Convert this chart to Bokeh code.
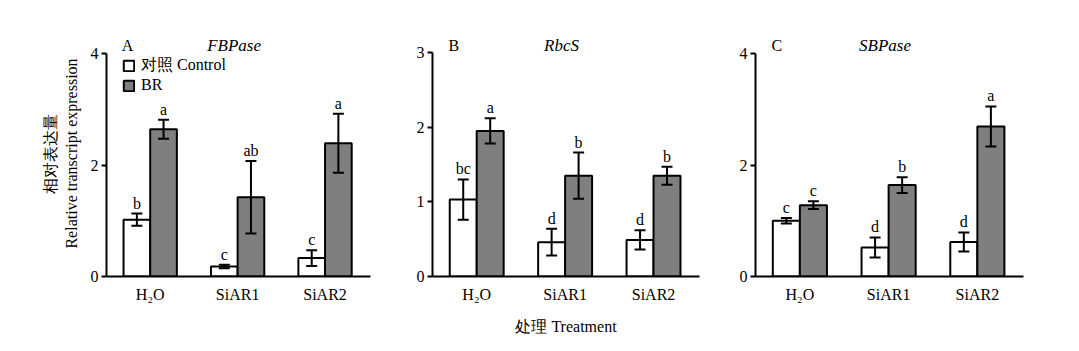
from bokeh.plotting import figure
from bokeh.models import ColumnDataSource, Whisker, TeeHead, Range1d, Legend, LegendItem
from bokeh.layouts import row
from bokeh.embed import file_html
from bokeh.resources import INLINE
from bokeh.core.properties import value

# ---------------- data ----------------
groups = ["H₂O", "SiAR1", "SiAR2"]
treatments = ["对照 Control", "BR"]
panel_letters = ["A", "B", "C"]
genes = ["FBPase", "RbcS", "SBPase"]
y_max = [4, 3, 4]
y_ticks = [[0, 2, 4], [0, 1, 2, 3], [0, 2, 4]]

fbp_ctrl = [1.02, 0.18, 0.33]
fbp_ctrl_err = [0.11, 0.03, 0.14]
fbp_br = [2.64, 1.42, 2.39]
fbp_br_err = [0.17, 0.65, 0.53]
fbp_ctrl_sig = ["b", "c", "c"]
fbp_br_sig = ["a", "ab", "a"]

rbc_ctrl = [1.03, 0.46, 0.49]
rbc_ctrl_err = [0.27, 0.18, 0.13]
rbc_br = [1.95, 1.35, 1.35]
rbc_br_err = [0.17, 0.31, 0.12]
rbc_ctrl_sig = ["bc", "d", "d"]
rbc_br_sig = ["a", "b", "b"]

sbp_ctrl = [1.00, 0.52, 0.62]
sbp_ctrl_err = [0.05, 0.18, 0.17]
sbp_br = [1.28, 1.64, 2.69]
sbp_br_err = [0.07, 0.14, 0.36]
sbp_ctrl_sig = ["c", "d", "d"]
sbp_br_sig = ["c", "b", "a"]

panel_data = [
    (fbp_ctrl, fbp_ctrl_err, fbp_ctrl_sig, fbp_br, fbp_br_err, fbp_br_sig),
    (rbc_ctrl, rbc_ctrl_err, rbc_ctrl_sig, rbc_br, rbc_br_err, rbc_br_sig),
    (sbp_ctrl, sbp_ctrl_err, sbp_ctrl_sig, sbp_br, sbp_br_err, sbp_br_sig),
]

# ---------------- style ----------------
SERIF = "Liberation Serif"
FILLS = ["white", "#7f7f7f"]
BAR_W = 0.305
HEIGHT = 351
TOP = 30
BOTTOM = 75
widths = [400, 330, 349]
lefts = [106, 32, 25]
rights = [30, 31, 56]
axis_px = [223, 224, 223]   # pixel height of y=0..ymax


def make_panel(i):
    ctrl, ctrl_e, ctrl_s, br, br_e, br_s = panel_data[i]
    frame_h = HEIGHT - TOP - BOTTOM
    y_end = y_max[i] * frame_h / axis_px[i]
    p = figure(width=widths[i], height=HEIGHT, output_backend="svg",
               toolbar_location=None, x_range=Range1d(-0.5, 2.52),
               y_range=Range1d(0, y_end),
               min_border_left=lefts[i], min_border_right=rights[i],
               min_border_top=TOP, min_border_bottom=BOTTOM,
               background_fill_color="white", border_fill_color="white")
    p.outline_line_color = None
    p.xgrid.visible = False
    p.ygrid.visible = False

    renderers = []
    for k, (vals, errs, sigs, off) in enumerate(
            [(ctrl, ctrl_e, ctrl_s, -BAR_W / 2), (br, br_e, br_s, BAR_W / 2)]):
        xs = [g + off for g in range(len(groups))]
        src = ColumnDataSource(dict(
            x=xs, top=vals,
            upper=[v + e for v, e in zip(vals, errs)],
            lower=[v - e for v, e in zip(vals, errs)],
            sig=sigs))
        r = p.vbar(x="x", top="top", width=BAR_W, source=src,
                   fill_color=FILLS[k], line_color="black", line_width=2)
        renderers.append(r)
        w = Whisker(base="x", upper="upper", lower="lower", source=src,
                    line_width=2, line_color="black", level="annotation",
                    upper_head=TeeHead(size=11, line_width=2, line_color="black"),
                    lower_head=TeeHead(size=11, line_width=2, line_color="black"))
        p.add_layout(w)
        p.text(x="x", y="upper", text="sig", source=src,
               text_align="center", text_baseline="bottom", y_offset=-2,
               text_font=value(SERIF), text_font_size="16px", text_color="black")

    # panel letter and gene name
    p.text(x=[-0.26], y=[y_end], text=[panel_letters[i]], y_offset=15,
           text_align="center", text_baseline="middle",
           text_font=value(SERIF), text_font_size="16px", text_color="black")
    p.text(x=[0.96], y=[y_end], text=[genes[i]], y_offset=15,
           text_align="center", text_baseline="middle",
           text_font=value(SERIF), text_font_style="italic",
           text_font_size="17px", text_color="black")

    # axes
    p.xaxis.ticker = [0, 1, 2]
    p.xaxis.major_label_overrides = {g: name for g, name in enumerate(groups)}
    p.xaxis.major_tick_line_color = None
    p.xaxis.major_tick_out = 0
    p.xaxis.major_tick_in = 0
    p.xaxis.minor_tick_line_color = None
    p.xaxis.axis_line_width = 2
    p.xaxis.major_label_standoff = 9
    p.xaxis.major_label_text_font = SERIF
    p.xaxis.major_label_text_font_size = "16px"
    p.xaxis.major_label_text_color = "black"

    p.yaxis.ticker = y_ticks[i]
    p.yaxis.bounds = (0, y_max[i])
    p.yaxis.axis_line_width = 2
    p.yaxis.major_tick_line_width = 2
    p.yaxis.major_tick_out = 5
    p.yaxis.major_tick_in = 0
    p.yaxis.minor_tick_line_color = None
    p.yaxis.major_label_standoff = 3
    p.yaxis.major_label_text_font = SERIF
    p.yaxis.major_label_text_font_size = "16px"
    p.yaxis.major_label_text_color = "black"

    if i == 0:
        p.yaxis.axis_label = "相对表达量\nRelative transcript expression"
        p.yaxis.axis_label_text_font = SERIF
        p.yaxis.axis_label_text_font_style = "normal"
        p.yaxis.axis_label_text_font_size = "16px"
        p.yaxis.axis_label_text_color = "black"
        p.yaxis.axis_label_standoff = 8
        legend = Legend(items=[LegendItem(label=treatments[0], renderers=[renderers[0]]),
                               LegendItem(label=treatments[1], renderers=[renderers[1]])],
                        location=(16, 182), padding=0, margin=0, spacing=-2,
                        glyph_width=13, glyph_height=13, label_height=16,
                        label_standoff=6, border_line_color=None,
                        background_fill_alpha=0,
                        label_text_font=SERIF, label_text_font_size="16px",
                        label_text_color="black")
        p.add_layout(legend)
    if i == 1:
        p.xaxis.axis_label = "处理 Treatment"
        p.xaxis.axis_label_text_font = SERIF
        p.xaxis.axis_label_text_font_style = "normal"
        p.xaxis.axis_label_text_font_size = "16px"
        p.xaxis.axis_label_text_color = "black"
        p.xaxis.axis_label_standoff = 12
    return p


panels = [make_panel(i) for i in range(3)]
layout = row(*panels, spacing=0)
open("out.html", "w").write(file_html(layout, INLINE))
